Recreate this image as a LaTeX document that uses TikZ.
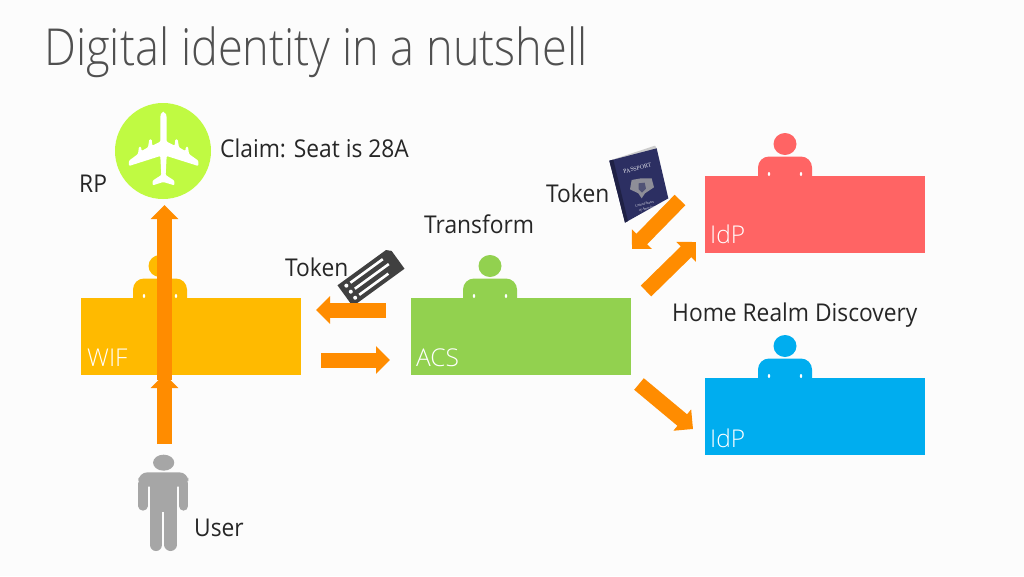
\documentclass[tikz,border=0pt]{standalone}
\usepackage{fontspec}
\setmainfont{Open Sans}
\newfontfamily\lightf{Open Sans Light}
\newfontfamily\serif{Liberation Serif}
\usetikzlibrary{arrows.meta,shapes.geometric}
\definecolor{orangeC}{HTML}{FF8C00}
\definecolor{wifC}{HTML}{FFBA00}
\definecolor{acsC}{HTML}{92D14F}
\definecolor{redC}{HTML}{FF6464}
\definecolor{blueC}{HTML}{00ADEF}
\definecolor{greyC}{HTML}{A6A6A6}
\definecolor{limeC}{HTML}{C0FA42}
\definecolor{textC}{HTML}{262626}
\definecolor{titleC}{HTML}{505050}
\definecolor{navyC}{HTML}{2C2F62}
\newcommand{\narrowtext}[1]{\scalebox{0.93}[1]{#1}}
\tikzset{
  deskbox/.style={anchor=north west,minimum width=220pt,minimum height=77pt,inner sep=0pt,outer sep=0pt},
  boxlabel/.style={anchor=base west,inner sep=0pt,text=white,font=\lightf\fontsize{24.5}{28}\selectfont},
  caption/.style={anchor=base west,inner sep=0pt,text=textC,font=\fontsize{24.5}{28}\selectfont},
  titletext/.style={anchor=base west,inner sep=0pt,text=titleC,font=\lightf\fontsize{51}{58}\selectfont},
  blockarrow/.style={draw=orangeC,line width=15pt,-{Triangle[length=14pt,width=27pt]}},
  person/.pic={
    \fill[pic actions] (0,-32) ellipse [x radius=11.5pt,y radius=11pt];
    \fill[pic actions,rounded corners=11pt] (-27,14) -- (-27,-19.5) -- (27,-19.5) -- (27,14) -- cycle;
  },
}
\begin{document}
\begin{tikzpicture}[x=1pt,y=-1pt]
\useasboundingbox (0,0) rectangle (1024,576);
\fill[white!99!black] (0,0) rectangle (1024,576);

\node[titletext] (title) at (44,65) {\scalebox{0.885}[1]{Digital identity in a nutshell}};

% RP icon
\node[circle,fill=limeC,minimum size=96pt,inner sep=0pt] (rp) at (163,151) {};
\begin{scope}[shift={(60,90)},x=0.3333pt,y=-0.3333pt]
\fill[white,rounded corners=1pt] (310,68) .. controls (303,68) and (301,75) .. (301,85)
  -- (301,155) -- (277,167) -- (275,148) -- (268,148) -- (264,172) -- (245,183) -- (243,170) -- (237,170) -- (234,192)
  -- (207,212) -- (207,228) -- (301,198) -- (304,255) -- (278,272) -- (278,286) -- (310,276)
  -- (343,286) -- (343,272) -- (317,255) -- (320,198) -- (415,228) -- (415,212) -- (387,192)
  -- (384,170) -- (378,170) -- (376,183) -- (357,172) -- (353,148) -- (346,148) -- (344,167) -- (320,155)
  -- (320,85) .. controls (320,75) and (317,68) .. (310,68) -- cycle;
\end{scope}

\node[caption] (claim) at (220,157) {\narrowtext{Claim: Seat is 28A}};
\node[caption] (rplabel) at (79,192) {\narrowtext{RP}};

% Desks
\pic[color=wifC] at (160,298) {person};
\node[deskbox,fill=wifC] (wif) at (81,298) {};
\fill[white] (144,296) ellipse [x radius=1.2pt,y radius=2pt] (176,296) ellipse [x radius=1.2pt,y radius=2pt];
\node[boxlabel] (wiflabel) at (87,366) {WIF};
\pic[color=acsC] at (490,298) {person};
\node[deskbox,fill=acsC] (acs) at (410.5,298) {};
\fill[white] (474,296) ellipse [x radius=1.2pt,y radius=2pt] (506,296) ellipse [x radius=1.2pt,y radius=2pt];
\node[boxlabel] (acslabel) at (416,366) {ACS};
\pic[color=redC] at (785,176) {person};
\node[deskbox,fill=redC] (idpa) at (705,176) {};
\fill[white] (769,174) ellipse [x radius=1.2pt,y radius=2pt] (801,174) ellipse [x radius=1.2pt,y radius=2pt];
\node[boxlabel] (idpalabel) at (710,243) {IdP};
\pic[color=blueC] at (785,378) {person};
\node[deskbox,fill=blueC] (idpb) at (705,378) {};
\fill[white] (769,376) ellipse [x radius=1.2pt,y radius=2pt] (801,376) ellipse [x radius=1.2pt,y radius=2pt];
\node[boxlabel] (idpblabel) at (710,447) {IdP};

% ticket
\begin{scope}[shift={(371,277)},rotate=36]
\fill[black!75] (-32,-13) -- (28,-13) -- (32,-9) -- (32,13) -- (-28,13) -- (-32,9) -- cycle;
\fill[white] (-25,-7.5) circle [radius=2pt];
\fill[white] (-25,0) circle [radius=2pt];
\fill[white] (-25,7.5) circle [radius=2pt];
\draw[white,line width=2.6pt] (-20,-7.5) -- (20,-7.5) (-20,0) -- (22,0) (-20,7.5) -- (16,7.5);
\end{scope}

% passport
\begin{scope}[shift={(540,130)},x=0.3333pt,y=-0.3333pt]
\fill[white!80!black] (208,92) -- (345,47) -- (352,58) -- cycle;
\fill[navyC] (208,92) -- (350,55) -- (385,205) -- (255,278) -- cycle;
\fill[black!30!navyC] (208,92) -- (220,89) -- (264,273) -- (255,278) -- cycle;
\fill[greyC!80!navyC] (303,145) -- (275,150) -- (270,178) -- (295,190) -- (305,205) -- (315,190) -- (342,172) -- (335,145) -- cycle;
\fill[navyC!70!greyC] (296,160) -- (296,178) -- (306,188) -- (318,176) -- (314,158) -- cycle;
\node[rotate=14,text=white!85!navyC,inner sep=0pt,font=\serif\fontsize{6}{7}\selectfont] (ppt) at (292,115) {PASSPORT};
\node[rotate=14,text=white!85!navyC,inner sep=0pt,font=\serif\itshape\fontsize{3.6}{4}\selectfont] (ppu) at (314,222) {United States};
\node[rotate=14,text=white!85!navyC,inner sep=0pt,font=\serif\itshape\fontsize{3.6}{4}\selectfont] (ppv) at (320,236) {of America};
\end{scope}

\node[caption] (tokena) at (285,276) {\narrowtext{Token}};
\node[caption] (transform) at (424,233) {\narrowtext{Transform}};
\node[caption] (tokenb) at (546,202) {\narrowtext{Token}};
\node[caption] (hrd) at (672,321) {\narrowtext{Home Realm Discovery}};
\node[caption] (userlabel) at (194,536) {\narrowtext{User}};

% user
\begin{scope}[shift={(120,370)},x=0.3333pt,y=-0.3333pt]
\fill[greyC] (131,278) ellipse [x radius=10.6pt,y radius=8pt];
\fill[greyC,rounded corners=9pt] (55,350) -- (55,307) -- (205,307) -- (205,350) -- cycle;
\fill[greyC] (89,330) rectangle (171,425);
\draw[greyC,line width=9.3pt,line cap=round] (69,340) -- (69,408);
\draw[greyC,line width=9.3pt,line cap=round] (191,340) -- (191,408);
\draw[greyC,line width=12.7pt,line cap=round] (108,420) -- (108,524);
\draw[greyC,line width=12.7pt,line cap=round] (152,420) -- (152,524);
\end{scope}

% connectors
\coordinate (uptail) at (164.5,380);
\coordinate (uptip) at (164.5,205);
\coordinate (lowtail) at (164.5,444);
\coordinate (lowtip) at (164.5,374);
\coordinate (tlt) at (386,310);
\coordinate (tlh) at (316,310);
\coordinate (trt) at (321,360);
\coordinate (trh) at (390,360);
\coordinate (urt) at (646,291);
\coordinate (urh) at (696,242);
\coordinate (dlt) at (680,200);
\coordinate (dlh) at (632,249);
\coordinate (drt) at (639,384);
\coordinate (drh) at (693,429);
\draw[blockarrow] (lowtail) -- (lowtip);
\draw[blockarrow] (uptail) -- (uptip);
\draw[blockarrow] (tlt) -- (tlh);
\draw[blockarrow] (trt) -- (trh);
\draw[blockarrow] (urt) -- (urh);
\draw[blockarrow] (dlt) -- (dlh);
\draw[blockarrow] (drt) -- (drh);
\end{tikzpicture}
\end{document}
